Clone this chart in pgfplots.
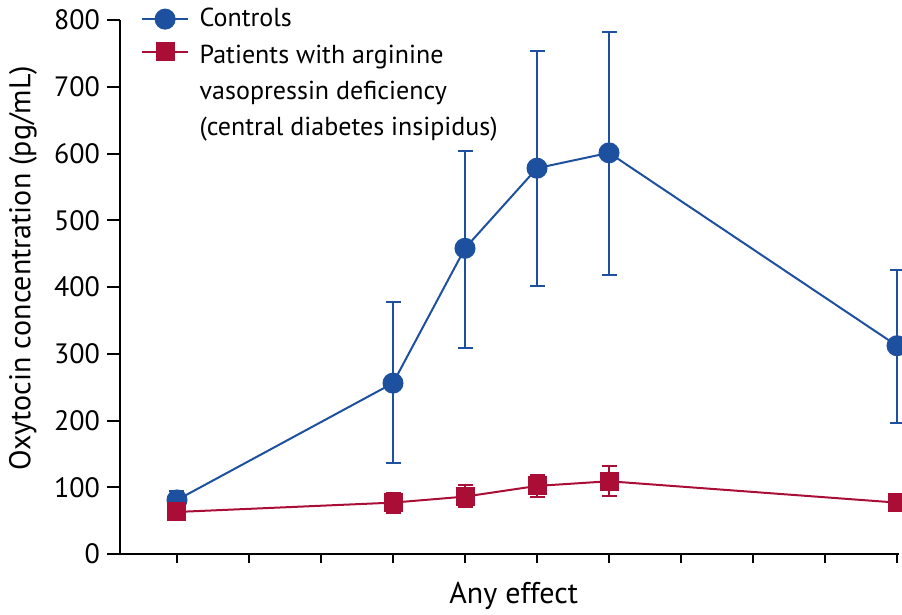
\documentclass[border=0pt]{standalone}
\usepackage{pgfplots}
\pgfplotsset{compat=1.18}
\usepackage{fontspec}
\setmainfont{PT Sans}
\definecolor{ctrlblue}{RGB}{30,80,160}
\definecolor{avpred}{RGB}{170,14,54}
\pgfplotsset{
  ebars/.style={forget plot, draw=none, mark=none,
    error bars/.cd, y dir=both, y explicit,
    error bar style={line width=1pt, #1},
    error mark options={rotate=90, mark size=3.75pt, line width=1pt, #1}},
}
\begin{document}
\begin{tikzpicture}[font=\fontsize{14}{18}\selectfont]
\begin{axis}[
  x=36pt, y=0.33375pt,
  xmin=-0.7917, xmax=10.03, ymin=0, ymax=800,
  axis x line*=bottom, axis y line*=left,
  axis line style={line width=1pt, -},
  xtick={0,...,10}, xticklabels={},
  ytick={0,100,...,800},
  tick style={line width=1pt, black},
  tick align=outside,
  major tick length=6.5pt,
  xtick style={/pgfplots/major tick length=4.5pt},
  /pgf/number format/assume math mode=true,
  clip=false,
  xlabel={Any effect},
  ylabel={Oxytocin concentration (pg/mL)},
  label style={font=\fontsize{15}{18}\selectfont},
  xlabel style={at={(axis description cs:0.5053,-0.0918)}, anchor=base},
  ylabel style={at={(axis description cs:-0.1245,0.5356)}, anchor=center},
  legend style={draw=none, fill=none, at={(axis description cs:0.0269,1.03)},
    anchor=north west, inner sep=0pt, row sep=0pt,
    font=\fontsize{13}{18}\selectfont},
  legend cell align=left,
  legend image code/.code={%
    \draw[mark repeat=2,mark phase=2] plot coordinates {(0cm,0cm)(0.4cm,0cm)(0.8cm,0cm)};
    \path (0.92cm,0cm);},
]
% Controls
\addplot[color=ctrlblue, line width=1pt, mark=*, mark size=4.75pt,
  mark options={solid, fill=ctrlblue, draw=ctrlblue}]
  coordinates {(0,81) (3,256) (4,458) (5,578) (6,601) (10,312)};
\addlegendentry{Controls}
% Patients with arginine vasopressin deficiency
\addplot[color=avpred, line width=1pt, mark=square*, mark size=4.25pt,
  mark options={solid, fill=avpred, draw=avpred}]
  coordinates {(0,63) (3,77) (4,86) (5,102) (6,109) (10,77)};
\addlegendentry{\begin{tabular}[t]{@{}l@{}}Patients with arginine\\vasopressin deficiency\\(central diabetes insipidus)\end{tabular}}
% error bars (mean and range) on top of the markers
\addplot[ebars=ctrlblue]
  coordinates {
  (0,81)   += (0,14)  -= (0,17)
  (3,256)  += (0,122) -= (0,120)
  (4,458)  += (0,146) -= (0,149)
  (5,578)  += (0,176) -= (0,176)
  (6,601)  += (0,181) -= (0,183)
  (10,312) += (0,114) -= (0,116)
  };
\addplot[ebars=avpred]
  coordinates {
  (0,63)   += (0,6)  -= (0,6)
  (3,77)   += (0,15) -= (0,15)
  (4,86)   += (0,17) -= (0,15)
  (5,102)  += (0,16) -= (0,17)
  (6,109)  += (0,23) -= (0,22)
  (10,77)  += (0,6)  -= (0,6)
  };
\coordinate (bbsw) at (axis cs:-2.4583,-89.89);
\coordinate (bbne) at (axis cs:10.0694,829.96);
\end{axis}
\pgfresetboundingbox
\useasboundingbox (bbsw) rectangle (bbne);
\end{tikzpicture}
\end{document}
